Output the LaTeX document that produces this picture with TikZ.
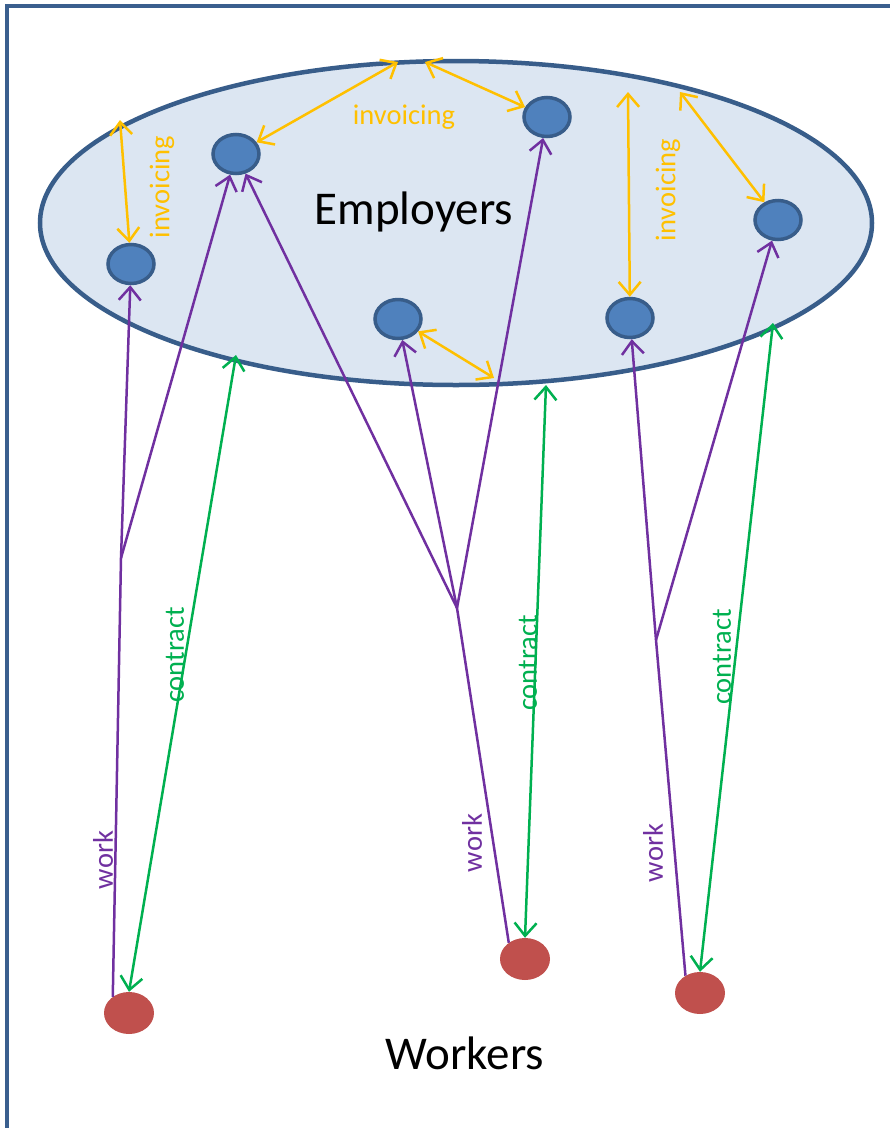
\documentclass[tikz,border=0pt]{standalone}
\usepackage{fontspec}
\setmainfont{Carlito}
\usetikzlibrary{arrows.meta,shapes.geometric}
\definecolor{frameblue}{HTML}{3A5F8E}
\definecolor{cloudfill}{HTML}{DCE6F2}
\definecolor{empfill}{HTML}{4F81BD}
\definecolor{empline}{HTML}{385D8A}
\definecolor{wrkfill}{HTML}{C0504D}
\definecolor{workcol}{HTML}{7030A0}
\definecolor{contcol}{HTML}{00B050}
\definecolor{invcol}{HTML}{FFC000}
\tikzset{
  employer/.style={
    ellipse,
    draw=empline,
    fill=empfill,
    line width=3.5pt,
    minimum width=46pt,
    minimum height=39pt,
    inner sep=0pt
  },
  worker/.style={
    ellipse,
    fill=wrkfill,
    minimum width=50pt,
    minimum height=42pt,
    inner sep=0pt
  },
  worklink/.style={workcol,line width=2.5pt},
  contlink/.style={contcol,line width=2.5pt,<->},
  invlink/.style={invcol,line width=2.5pt,<->},
  smalltext/.style={font=\fontsize{28.5}{30}\selectfont,inner sep=0pt},
  bigtext/.style={font=\fontsize{47}{50}\selectfont,inner sep=0pt}
}

\begin{document}
\begin{tikzpicture}[x=1pt,y=-1pt,>={Straight Barb[length=13pt,width=22pt]}]
    \useasboundingbox (0,0) rectangle (890,1128);

    % 枠
    \draw[frameblue,line width=4pt] (7,1128) -- (7,5.5) -- (890,5.5);

    % 雇用者の楕円
    \draw[empline,fill=cloudfill,line width=4.5pt] (456,223) ellipse (416pt and 162pt);
    \node[bigtext] (employers) at (414,212) {Employers};

    % 雇用者
    \node[employer] (e1) at (131,264) {};
    \node[employer] (e2) at (236,154) {};
    \node[employer] (e3) at (547,117) {};
    \node[employer] (e4) at (398,319) {};
    \node[employer] (e5) at (630,318) {};
    \node[employer] (e6) at (778,220) {};

    % 労働者
    \node[worker] (w1) at (129,1013) {};
    \node[worker] (w2) at (525,959) {};
    \node[worker] (w3) at (700,993) {};
    \node[bigtext] (workers) at (465,1053) {Workers};

    % 分岐点と楕円上の点
    \coordinate (b1) at (121,558);
    \coordinate (b2) at (457,608);
    \coordinate (b3) at (656,640);
    \coordinate (k1) at (236,355);
    \coordinate (k2) at (546,385);
    \coordinate (k3) at (773,323);
    \coordinate (v1) at (120,120);
    \coordinate (v2) at (398,62);
    \coordinate (v3) at (425,62);
    \coordinate (v4) at (628,92);
    \coordinate (v5) at (680,92);
    \coordinate (v6) at (494,378);

    % work
    \draw[worklink] (w1.135) -- (b1);
    \draw[worklink,->] (b1) -- (e1);
    \draw[worklink,->] (b1) -- (e2);
    \draw[worklink] (w2.135) -- (b2);
    \draw[worklink,->] (b2) -- (e2);
    \draw[worklink,->] (b2) -- (e4);
    \draw[worklink,->] (b2) -- (e3);
    \draw[worklink] (w3.130) -- (b3);
    \draw[worklink,->] (b3) -- (e5);
    \draw[worklink,->] (b3) -- (e6);

    % contract
    \draw[contlink] (k1) -- (w1.north);
    \draw[contlink] (k2) -- (w2.north);
    \draw[contlink] (k3) -- (w3.north);

    % invoicing
    \draw[invlink] (v1) -- (e1);
    \draw[invlink] (e2) -- (v2);
    \draw[invlink] (v3) -- (e3);
    \draw[invlink] (v4) -- (e5);
    \draw[invlink] (v5) -- (e6);
    \draw[invlink] (e4) -- (v6);

    % ラベル
    \node[smalltext,invcol,rotate=90] (inv1) at (162,187) {invoicing};
    \node[smalltext,invcol] (inv2) at (404,117) {invoicing};
    \node[smalltext,invcol,rotate=90] (inv3) at (668,190) {invoicing};
    \node[smalltext,contcol,rotate=90] (con1) at (175,655) {contract};
    \node[smalltext,contcol,rotate=90] (con2) at (528,663) {contract};
    \node[smalltext,contcol,rotate=90] (con3) at (722,657) {contract};
    \node[smalltext,workcol,rotate=90] (wrk1) at (103,860) {work};
    \node[smalltext,workcol,rotate=90] (wrk2) at (472,843) {work};
    \node[smalltext,workcol,rotate=90] (wrk3) at (653,853) {work};
\end{tikzpicture}
\end{document}
